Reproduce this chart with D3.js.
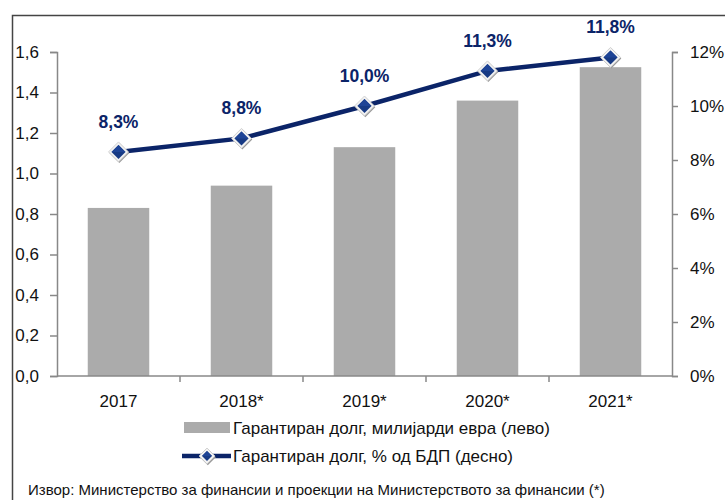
<!DOCTYPE html>
<html>
<head>
<meta charset="utf-8">
<script src="https://cdn.jsdelivr.net/npm/d3@7"></script>
<style>
  body { margin: 0; background: #fff; }
  text { font-family: "Liberation Sans", Arial, sans-serif; }
</style>
</head>
<body>
<div id="chart"></div>
<script>
// data
const years = ["2017", "2018*", "2019*", "2020*", "2021*"];
const debtBn = [0.83, 0.94, 1.13, 1.36, 1.525];
const debtPct = [8.3, 8.8, 10.0, 11.3, 11.8];
const leftTicks = [0, 0.2, 0.4, 0.6, 0.8, 1.0, 1.2, 1.4, 1.6];
const rightTicks = [0, 2, 4, 6, 8, 10, 12];
const legendLabels = ["Гарантиран долг, милијарди евра (лево)", "Гарантиран долг, % од БДП (десно)"];
const sourceText = "Извор: Министерство за финансии и проекции на Министерството за финансии (*)";

const W = 725, H = 500;
const margin = {top: 52, left: 57, right: 53, bottom: 124};
const navy = "#0b2468";
const fmt = d3.format(".1f");
const comma = s => s.replace(".", ",");

const svg = d3.select("#chart").append("svg")
    .attr("width", W)
    .attr("height", H);

// outer frame
svg.append("rect")
    .attr("x", 12.5).attr("y", 15.5)
    .attr("width", 720).attr("height", 500)
    .attr("fill", "none")
    .attr("stroke", "#444")
    .attr("stroke-width", 1.5);

const x = d3.scaleBand()
    .domain(years)
    .range([margin.left, W - margin.right])
    .paddingInner(0.5)
    .paddingOuter(0.25);

const yL = d3.scaleLinear().domain([0, 1.6]).range([H - margin.bottom, margin.top]);
const yR = d3.scaleLinear().domain([0, 12]).range([H - margin.bottom, margin.top]);

// bars
svg.selectAll("rect.bar")
    .data(years)
    .enter()
    .append("rect")
    .attr("class", "bar")
    .attr("x", d => x(d))
    .attr("y", (d, i) => yL(debtBn[i]))
    .attr("width", x.bandwidth())
    .attr("height", (d, i) => yL(0) - yL(debtBn[i]))
    .attr("fill", "#ababab");

// left axis
const axL = svg.append("g")
    .attr("transform", `translate(${margin.left},0)`)
    .call(d3.axisLeft(yL).tickValues(leftTicks).tickSize(7).tickPadding(11)
        .tickFormat(d => comma(fmt(d))));
// right axis
const axR = svg.append("g")
    .attr("transform", `translate(${W - margin.right},0)`)
    .call(d3.axisRight(yR).tickValues(rightTicks).tickSize(6).tickPadding(12)
        .tickFormat(d => d + "%"));
[axL, axR].forEach(ax => {
    ax.select(".domain").attr("stroke", "#888").attr("stroke-width", 1.5);
    ax.selectAll(".tick line").attr("stroke", "#888").attr("stroke-width", 1.5);
    ax.selectAll("text")
        .attr("fill", "#111")
        .style("font-size", "17px")
        .style("font-family", "'Liberation Sans', Arial, sans-serif");
});

// x axis with ticks between categories
const xLine = svg.append("g");
xLine.append("line")
    .attr("x1", margin.left).attr("x2", W - margin.right)
    .attr("y1", yL(0)).attr("y2", yL(0))
    .attr("stroke", "#888").attr("stroke-width", 1.5);
const step = x.step();
xLine.selectAll("line.tk")
    .data(years.slice(1))
    .enter()
    .append("line")
    .attr("class", "tk")
    .attr("x1", d => x(d) - step * x.paddingInner() / 2)
    .attr("x2", d => x(d) - step * x.paddingInner() / 2)
    .attr("y1", yL(0)).attr("y2", yL(0) + 6)
    .attr("stroke", "#888").attr("stroke-width", 1.5);
xLine.selectAll("text")
    .data(years)
    .enter()
    .append("text")
    .attr("x", d => x(d) + x.bandwidth() / 2)
    .attr("y", yL(0) + 31)
    .attr("text-anchor", "middle")
    .attr("fill", "#111")
    .attr("font-size", "17px")
    .text(d => d);

// line series
const cx = d => x(d) + x.bandwidth() / 2;
const line = d3.line()
    .x(d => cx(d))
    .y((d, i) => yR(debtPct[i]));
svg.append("path")
    .datum(years)
    .attr("d", line)
    .attr("fill", "none")
    .attr("stroke", navy)
    .attr("stroke-width", 4.5);

function diamond(g, px, py, r) {
    const pts = (s, dx, dy) => [[px + dx, py - s + dy], [px + s + dx, py + dy], [px + dx, py + s + dy], [px - s + dx, py + dy]].join(" ");
    g.append("polygon").attr("points", pts(r + 2, 0.8, 1.2)).attr("fill", "#9a9a9a");
    g.append("polygon").attr("points", pts(r + 2, 0, 0)).attr("fill", "#f2f2f2").attr("stroke", "#c8c8c8").attr("stroke-width", 0.8);
    g.append("polygon").attr("points", pts(r - 1, 0, 0)).attr("fill", "#173a84");
    g.append("polygon")
        .attr("points", [[px, py - r + 1], [px + r - 1, py], [px - r + 1, py]].join(" "))
        .attr("fill", "#1e4496");
}

const markers = svg.append("g");
years.forEach((d, i) => diamond(markers, cx(d), yR(debtPct[i]), 8));

svg.selectAll("text.lbl")
    .data(years)
    .enter()
    .append("text")
    .attr("class", "lbl")
    .attr("x", d => cx(d))
    .attr("y", (d, i) => yR(debtPct[i]) - 24)
    .attr("text-anchor", "middle")
    .attr("fill", navy)
    .attr("font-size", "17.5px")
    .attr("font-weight", "bold")
    .text((d, i) => comma(fmt(debtPct[i])) + "%");

// legend
const lg = svg.append("g");
lg.append("rect")
    .attr("x", 184).attr("y", 422)
    .attr("width", 46).attr("height", 11)
    .attr("fill", "#ababab");
lg.append("text")
    .attr("x", 233).attr("y", 434)
    .attr("fill", "#111")
    .attr("font-size", "17px")
    .text(legendLabels[0]);
lg.append("line")
    .attr("x1", 182).attr("x2", 231)
    .attr("y1", 456).attr("y2", 456)
    .attr("stroke", navy).attr("stroke-width", 4.5);
diamond(lg, 207, 456, 6);
lg.append("text")
    .attr("x", 233).attr("y", 462)
    .attr("fill", "#111")
    .attr("font-size", "17px")
    .text(legendLabels[1]);

svg.append("text")
    .attr("x", 28).attr("y", 495)
    .attr("fill", "#111")
    .attr("font-size", "15px")
    .text(sourceText);
</script>
</body>
</html>
